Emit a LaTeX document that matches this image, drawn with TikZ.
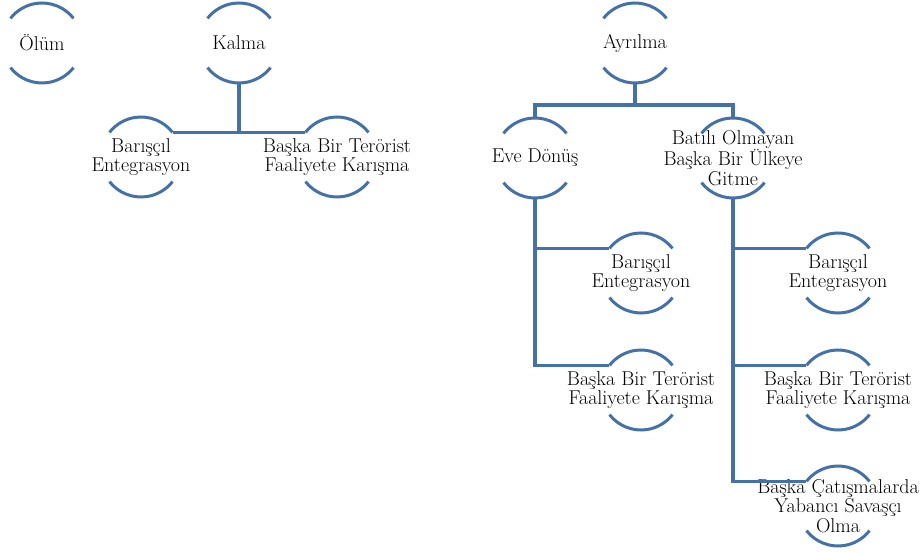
\documentclass[tikz,border=0pt]{standalone}
\definecolor{ringblue}{RGB}{68,114,166}

\begin{document}
\begin{tikzpicture}[
    x=1pt, y=-1pt,
    font=\fontsize{20}{19.5}\selectfont,
    ring/.style={circle, minimum size=80pt, inner sep=0pt, outer sep=0pt},
    txt/.style={align=center, inner sep=0pt, font=\fontsize{20}{19.5}\selectfont},
    arcline/.style={line width=3pt, draw=ringblue},
    link/.style={line width=3.2pt, draw=ringblue},
  ]
  \useasboundingbox (0,0) rectangle (920,553);

  % Top row
  \node[ring, label={[txt]center:Ölüm}] (olum) at (42,43) {};
  \node[ring, label={[txt]center:Kalma}] (kalma) at (239,43) {};
  \node[ring, label={[txt]center:Ayrılma}] (ayrilma) at (635,43) {};

  % Second row
  \node[ring, label={[txt]center:{Barışçıl\\Entegrasyon}}] (baris1) at (141,157) {};
  \node[ring, label={[txt]center:{Başka Bir Terörist\\Faaliyete Karışma}}] (baska1) at (337,157) {};
  \node[ring, label={[txt]center:Eve Dönüş}] (eve) at (535,158) {};
  \node[ring, label={[txt]center:{Batılı Olmayan\\Başka Bir Ülkeye\\Gitme}}] (batili) at (733,158) {};

  % Children of Eve Dönüş
  \node[ring, label={[txt]center:{Barışçıl\\Entegrasyon}}] (baris2) at (641,273) {};
  \node[ring, label={[txt]center:{Başka Bir Terörist\\Faaliyete Karışma}}] (baska2) at (641,390) {};

  % Children of Batılı Olmayan
  \node[ring, label={[txt]center:{Barışçıl\\Entegrasyon}}] (baris3) at (838,273) {};
  \node[ring, label={[txt]center:{Başka Bir Terörist\\Faaliyete Karışma}}] (baska3) at (838,390) {};
  \node[ring, label={[txt]center:{Başka Çatışmalarda\\Yabancı Savaşçı\\Olma}}] (catisma) at (838,506) {};

  % Arcs
  \foreach \n in {olum,kalma,ayrilma,baris1,baska1,eve,batili,baris2,baska2,baris3,baska3,catisma} {
    \draw[arcline] (\n.38) arc[start angle=38, end angle=142, radius=40pt];
    \draw[arcline] (\n.218) arc[start angle=218, end angle=322, radius=40pt];
  }

  % Lines
  \draw[link] (kalma.south) |- (baris1.38);
  \draw[link] (kalma.south) |- (baska1.142);
  \draw[link] (ayrilma.south) -- ++(0,22) -| (eve.north);
  \draw[link] (ayrilma.south) -- ++(0,22) -| (batili.north);
  \draw[link] (eve.south) |- (baris2.142);
  \draw[link] (eve.south) |- (baska2.142);
  \draw[link] (batili.south) |- (baris3.142);
  \draw[link] (batili.south) |- (baska3.142);
  \draw[link] (batili.south) |- (catisma.142);

\end{tikzpicture}
\end{document}
